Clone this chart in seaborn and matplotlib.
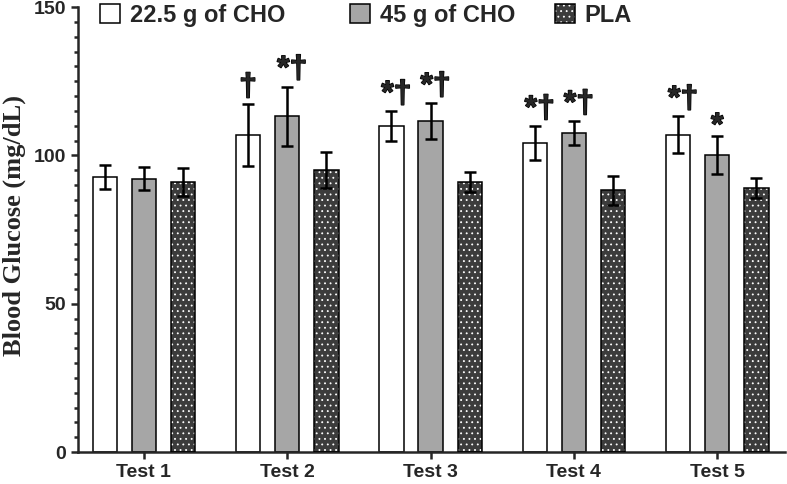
import numpy as np
import pandas as pd
import matplotlib
matplotlib.use('Agg')
import matplotlib.pyplot as plt
import matplotlib.patheffects as pe
import seaborn as sns
from matplotlib.patches import Patch, Rectangle
from matplotlib.ticker import MultipleLocator

# data (mean +/- SD)
tests = ['Test 1', 'Test 2', 'Test 3', 'Test 4', 'Test 5']
groups = ['22.5 g of CHO', '45 g of CHO', 'PLA']
cho22_mean = [92.7, 106.8, 109.8, 104.1, 106.9]
cho22_sd = [3.9, 10.4, 5.0, 5.7, 6.2]
cho45_mean = [92.2, 113.2, 111.5, 107.5, 100.2]
cho45_sd = [4.0, 10.0, 6.0, 4.0, 6.4]
pla_mean = [90.9, 95.0, 90.9, 88.2, 89.0]
pla_sd = [4.7, 6.0, 3.4, 5.0, 3.5]
cho22_marks = ['', '†', '*†', '*†', '*†']
cho45_marks = ['', '*†', '*†', '*†', '*']

means = [cho22_mean, cho45_mean, pla_mean]
sds = [cho22_sd, cho45_sd, pla_sd]
marks = [cho22_marks, cho45_marks, [''] * 5]

df = pd.DataFrame({
    'test': tests * 3,
    'group': np.repeat(groups, len(tests)),
    'glucose': cho22_mean + cho45_mean + pla_mean,
})

sns.set_style('ticks')
plt.rcParams['font.family'] = ['Liberation Sans', 'DejaVu Sans']
plt.rcParams['font.weight'] = 'bold'
plt.rcParams['hatch.linewidth'] = 0.6

colors = ['#ffffff', '#a6a6a6', '#3c3c3c']
pla_hatch = '...'

fig = plt.figure(figsize=(7.87, 4.84), dpi=100)
ax = fig.add_axes([0.099, 0.066, 0.898, 0.9195])

sns.barplot(data=df, x='test', y='glucose', hue='group', palette=colors,
            errorbar=None, width=0.82, gap=0.38, edgecolor='black',
            linewidth=1.1, ax=ax, legend=False)

bold_fx = [pe.withStroke(linewidth=1.0, foreground='black')]
bar_sets = list(ax.containers)
for i, cont in enumerate(bar_sets):
    xs = [p.get_x() + p.get_width() / 2 for p in cont.patches]
    if i == 2:
        for p in cont.patches:
            p.set_edgecolor('white')
            p.set_hatch(pla_hatch)
            p.set_linewidth(0)
            ax.add_patch(Rectangle((p.get_x(), 0), p.get_width(), p.get_height(),
                                   fill=False, edgecolor='black', linewidth=1.1, zorder=3))
    ax.errorbar(xs, means[i], yerr=sds[i], fmt='none', ecolor='black',
                elinewidth=1.8, capsize=4.3, capthick=1.8, zorder=4)
    for x, m, s, t in zip(xs, means[i], sds[i], marks[i]):
        if t:
            dx = 0.035 if len(t) > 1 else 0
            dy = 0.6 if '†' in t else -2.0
            ax.text(x + dx, m + s + dy, t, ha='center', va='bottom',
                    fontsize=23, fontweight='bold', path_effects=bold_fx)

ax.set_ylim(0, 150)
ax.set_xlim(-0.46, 4.47)
ax.yaxis.set_major_locator(MultipleLocator(50))
ax.yaxis.set_minor_locator(MultipleLocator(5))
ax.set_xlabel('')
ax.set_ylabel('Blood Glucose (mg/dL)', family='Liberation Serif',
              fontsize=19, fontweight='bold')
ax.yaxis.set_label_coords(-0.074, 0.51)
ax.tick_params(axis='both', which='major', labelsize=14, width=1.8, length=5)
ax.tick_params(axis='y', which='minor', width=1.8, length=3)
for lab in ax.get_xticklabels() + ax.get_yticklabels():
    lab.set_fontweight('bold')
sns.despine(ax=ax)
for sp in ['left', 'bottom']:
    ax.spines[sp].set_linewidth(1.8)

handles = [
    Patch(facecolor=colors[0], edgecolor='black', linewidth=1.1),
    Patch(facecolor=colors[1], edgecolor='black', linewidth=1.1),
    (Patch(facecolor=colors[2], edgecolor='white', hatch=pla_hatch, linewidth=0),
     Patch(facecolor='none', edgecolor='black', linewidth=1.1)),
]
legend_x = [0.127, 0.445, 0.705]
for h, lab, lx in zip(handles, groups, legend_x):
    fig.legend([h], [lab], loc='upper left', bbox_to_anchor=(lx, 0.992),
               frameon=False, prop={'size': 17, 'weight': 'bold'},
               handlelength=0.85, handleheight=0.85, handletextpad=0.42,
               borderpad=0, borderaxespad=0)

fig.savefig('out.png', dpi=100)
